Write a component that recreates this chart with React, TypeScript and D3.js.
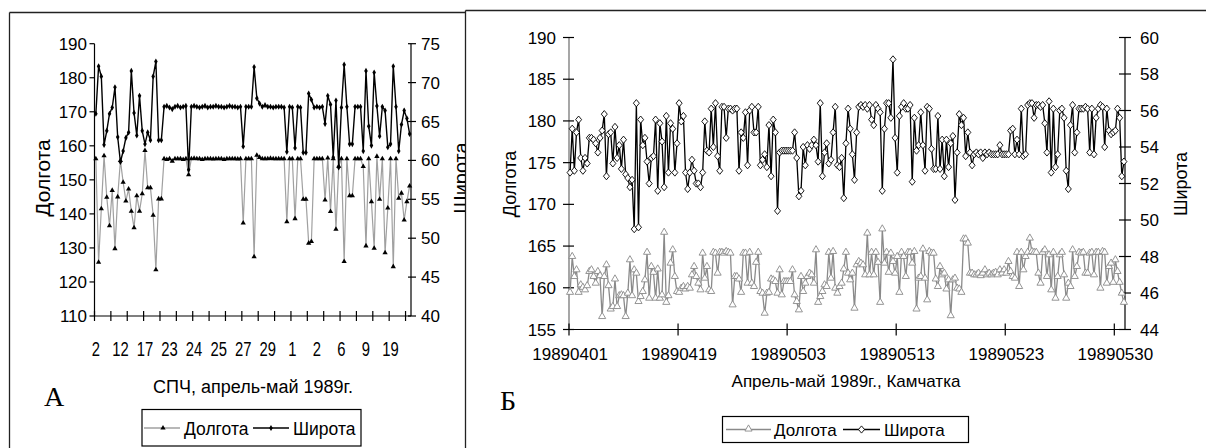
import React from "react";
import * as d3 from "d3";

// ---------- Panel A data (СПЧ) ----------
const catLabelsA = ["2", "12", "17", "23", "24", "25", "27", "29", "1", "2", "6", "9", "19"];
const leftTicksA = [110, 120, 130, 140, 150, 160, 170, 180, 190];
const rightTicksA = [40, 45, 50, 55, 60, 65, 70, 75];
const lonA = [
  156.2, 125.8, 141.5, 157.1, 144.9, 136.5, 146.9, 129.8, 145.0, 155.7,
  149.3, 143.8, 147.3, 140.8, 135.9, 145.3, 140.8, 145.9, 158.6, 147.7,
  147.7, 139.6, 123.6, 144.4, 144.4,
  156.2, 156.0, 156.2, 155.5, 156.2, 156.2, 156.2, 156.0, 156.2, 151.5,
  156.2, 156.3, 156.2, 156.2, 156.0, 156.2, 156.2, 156.2, 156.1, 156.2,
  156.2, 156.2, 156.0, 156.2, 156.2, 156.2, 156.2, 156.1, 156.2, 137.3,
  156.2, 156.2, 156.2, 127.4, 157.2, 156.6, 156.2, 156.2, 156.2, 156.3,
  156.2, 156.2, 156.2, 156.2, 156.2, 137.7, 156.2, 156.2, 138.6, 156.2,
  156.2, 144.3, 144.3,
  131.4, 131.9, 156.2, 156.2, 156.2, 156.2, 144.1, 156.4, 140.7, 156.2,
  135.5, 154.0, 156.2, 126.0, 156.2, 145.3, 145.3, 156.2, 156.2, 156.2,
  153.9, 130.6, 156.2, 143.6, 129.9, 156.9, 144.3, 156.2, 128.6, 141.7,
  156.2, 124.5, 156.2, 144.6, 146.1, 138.2, 143.6, 148.2,
];
const latA = [
  66.0, 72.1, 70.8, 62.0, 63.8, 66.0, 66.8, 69.4, 63.0, 59.8,
  61.2, 62.9, 63.6, 71.5, 66.1, 63.2, 68.3, 63.8, 62.1, 63.6,
  62.6, 70.8, 72.7, 62.6, 62.6,
  66.9, 67.0, 66.8, 66.6, 66.9, 67.0, 66.8, 66.9, 67.0, 58.8,
  66.9, 67.0, 66.9, 66.8, 66.9, 67.0, 66.8, 66.9, 66.9, 67.0,
  66.9, 66.9, 66.8, 66.9, 67.0, 66.9, 66.9, 66.8, 66.9, 61.8,
  66.9, 66.9, 66.9, 72.0, 68.0, 67.3, 66.9, 67.1, 66.9, 66.9,
  66.8, 66.9, 66.9, 66.9, 66.8, 61.1, 66.9, 66.8, 61.6, 66.9,
  66.8, 61.0, 61.0,
  68.6, 67.8, 66.8, 66.9, 66.8, 66.9, 64.7, 68.3, 67.2, 60.4,
  67.7, 59.1, 66.8, 72.3, 66.9, 62.1, 62.1, 66.9, 66.9, 66.9,
  61.2, 71.5, 64.4, 61.9, 71.3, 67.0, 63.1, 66.9, 66.4, 61.7,
  62.1, 72.1, 66.9, 61.2, 64.6, 66.4, 65.4, 63.4,
];

// ---------- Panel B data (Камчатка) ----------
const catLabelsB = ["19890401", "19890419", "19890503", "19890513", "19890523", "19890530"];
const leftTicksB = [155, 160, 165, 170, 175, 180, 185, 190];
const rightTicksB = [44, 46, 48, 50, 52, 54, 56, 58, 60];
const lonB = [
  159.4, 163.7, 161.3, 162.1, 159.4, 160.3, 160.0, 159.7, 160.2, 161.9,
  162.1, 161.3, 160.5, 161.9, 161.4, 156.5, 161.3, 162.7, 160.2, 157.4,
  157.7, 161.0, 157.7, 159.0, 159.1, 159.0, 156.5, 159.3, 163.3, 159.0,
  162.1, 161.7, 158.3, 158.9, 159.5, 160.9, 164.2, 158.7, 162.5, 161.8,
  158.7, 162.2, 158.7, 159.1, 166.6, 158.2, 159.0, 162.9, 164.5, 161.3,
  159.5, 159.4, 159.9, 160.1, 159.8, 160.1, 159.9, 161.5, 162.5, 161.3,
  160.5, 159.7, 164.1, 161.1, 162.5, 159.7, 159.5, 164.2, 164.1, 161.7,
  164.2, 164.2, 164.1, 164.3, 164.2, 164.1, 157.9, 161.3, 161.3, 161.0,
  159.4, 164.1, 164.1, 160.5, 164.2, 160.5, 160.1, 163.0, 164.2, 159.5,
  159.3, 156.9, 159.3, 159.4, 161.0,
  160.9, 160.7, 159.3, 162.1, 159.1, 160.7, 160.7, 160.7, 160.7,
  162.1, 159.1, 158.3, 157.3, 161.3, 159.5, 160.5, 161.3, 161.7, 161.5, 160.5,
  164.5, 158.2, 158.9, 159.5, 160.3, 160.1, 164.2, 161.1, 164.3, 159.9,
  159.3, 160.1, 160.5, 162.2, 164.2, 161.7, 160.9, 161.7, 157.5,
  162.7, 163.1, 162.9, 162.7, 161.5, 166.5, 161.5, 164.2, 161.5, 164.2,
  163.0, 158.2, 167.0, 162.9, 164.2, 161.8, 164.1, 163.1,
  161.7, 163.7, 159.4, 164.2, 163.7, 161.3, 164.2, 164.2, 162.9, 164.3,
  157.4, 161.1, 161.3, 164.6, 161.1, 158.5, 164.3, 164.1,
  164.1, 161.0, 160.1, 162.5, 161.5, 161.7, 159.8, 160.9, 156.6, 160.9,
  161.1, 159.9, 159.8, 159.4, 165.8, 165.8, 165.3,
  161.7, 161.7, 161.5, 161.5, 161.7, 161.4, 161.7, 162.1, 161.5, 161.7, 161.5,
  161.7, 161.8, 161.5, 162.1, 161.7, 162.1, 161.7,
  163.1, 161.9, 161.3, 161.1, 164.2, 160.1, 164.2, 162.1, 163.7, 164.2,
  165.9, 164.3, 164.2, 164.2, 161.7, 160.5, 164.2, 164.5, 161.3, 163.9,
  159.7, 164.2, 158.7, 161.3, 163.9, 164.2, 161.5, 158.7, 160.5, 160.1,
  164.5, 161.3, 162.5, 164.2, 164.1, 164.2, 161.7, 161.7, 164.1, 164.2,
  161.5, 164.2, 164.2, 159.9, 164.3, 164.2, 160.5, 162.5, 162.9, 160.6,
  163.3, 161.9, 160.6, 159.3, 158.2,
];
const latB = [
  52.6, 55.0, 52.7, 54.8, 55.5, 53.4, 52.7, 53.4, 53.1, 54.5,
  54.5, 54.4, 54.2, 53.7, 54.5, 54.9, 55.8, 52.4, 54.7, 54.8,
  53.1, 55.1, 53.4, 54.1, 52.8, 54.4, 52.5, 52.3, 51.8, 52.2,
  49.5, 56.4, 49.6, 55.5, 54.1, 54.5, 53.2, 52.0, 53.4, 53.5,
  55.5, 51.6, 55.3, 54.3, 51.8, 55.7, 52.6, 55.3, 55.0, 52.6,
  54.2, 56.4, 55.4, 55.7, 52.6, 51.7, 52.6, 53.3, 52.7, 52.0,
  52.0, 51.8, 52.6, 55.4, 53.8, 53.7, 56.1, 54.0, 56.4, 53.5,
  52.7, 56.2, 56.2, 54.5, 56.1, 56.1, 56.0, 56.1, 56.1, 52.7,
  54.8, 54.5, 55.9, 53.0, 56.0, 56.2, 54.8, 54.8, 56.2, 53.0,
  53.3, 53.6, 52.9, 55.2, 52.4,
  55.5, 54.8, 50.5, 53.7, 53.8, 53.8, 53.8, 53.8, 53.8, 53.8,
  54.8, 53.4, 51.3, 51.6, 54.0, 53.0, 54.1, 53.9, 54.1, 54.4,
  54.1, 53.2, 56.4, 52.4, 53.7, 54.2, 53.1, 53.3, 54.8, 56.2,
  53.0, 52.9, 53.4, 51.2, 54.2, 56.1, 55.0, 53.6, 52.2, 54.8,
  56.2, 56.3, 56.2, 56.3, 56.1, 56.3, 55.5, 55.2, 56.3, 56.1,
  55.9, 51.6, 55.0, 56.4, 56.4, 55.6, 58.8, 54.5, 52.6, 55.7,
  56.2, 56.4, 56.1, 56.1, 56.3, 52.1, 55.6, 53.8, 54.1, 55.9,
  54.1, 52.7, 56.2, 56.1, 53.9, 52.8, 52.8, 55.7, 52.8, 54.4,
  52.4, 54.4, 52.9, 54.2, 54.6, 51.1, 53.7, 55.8, 55.2, 55.6,
  53.5, 54.8, 53.7, 53.0, 53.6, 53.7, 53.6, 53.7, 53.4, 53.7,
  53.6, 53.7, 53.6,
  53.6, 53.6, 53.6, 54.1, 53.6, 53.6, 53.6, 53.6, 54.9, 55.0,
  53.6, 54.4, 53.6, 56.1, 53.5, 53.6, 56.3, 56.4, 56.4, 55.6,
  56.3, 56.3, 56.2, 56.3, 55.3, 53.7, 56.5, 52.6, 56.1, 52.9,
  53.6, 56.0, 56.1, 55.6, 52.7, 51.7, 55.2, 56.3, 53.7, 54.8,
  56.1, 56.1, 56.1, 56.2, 56.1, 53.7, 56.1, 53.6, 55.6, 56.1,
  56.3, 56.2, 54.0, 56.1, 54.9, 54.7, 54.8, 54.9, 56.1, 55.6,
  52.4, 53.2,
];

const FONT = "'Liberation Sans', Arial, Helvetica, sans-serif";
const SERIF = "'Liberation Serif', 'Times New Roman', serif";

function HText(props: any) {
  const { x, y, size, anchor = "start", sx = 1, children, fill = "#000", family = FONT } = props;
  return (
    <text
      transform={`translate(${x},${y}) scale(${sx},1)`}
      fontSize={size}
      textAnchor={anchor}
      fill={fill}
      fontFamily={family}
    >
      {children}
    </text>
  );
}

function VText(props: any) {
  const { x, y, size, children } = props;
  return (
    <text transform={`translate(${x},${y}) rotate(-90)`} fontSize={size} textAnchor="middle" fill="#000" fontFamily={FONT}>
      {children}
    </text>
  );
}

function PanelA() {
  const N = lonA.length;
  const x0 = 94.5, x1 = 411, yT = 43.7, yB = 316;
  const x = d3.scaleLinear().domain([0, N]).range([x0, x1]);
  const yL = d3.scaleLinear().domain([110, 190]).range([yB, yT]);
  const yR = d3.scaleLinear().domain([40, 75]).range([yB, yT]);
  const lineL = d3.line<number>().x((_, i) => x(i + 0.5)).y((d) => yL(d));
  const lineR = d3.line<number>().x((_, i) => x(i + 0.5)).y((d) => yR(d));
  const tri = d3.symbol().type(d3.symbolTriangle).size(12)() as string;
  const dot = d3.symbol().type(d3.symbolDiamond).size(11)() as string;
  const tickIdx = d3.range(0, N, 6);
  const labIdx = d3.range(0, N, 9);
  return (
    <g>
      <defs>
        <clipPath id="clipA">
          <rect x={9} y={0} width={456} height={448} />
        </clipPath>
      </defs>
      <line x1={x0} x2={x0} y1={yT} y2={yB} stroke="#000" strokeWidth={1.2} />
      <line x1={x1} x2={x1} y1={yT} y2={yB} stroke="#000" strokeWidth={1.2} />
      <line x1={x0} x2={x1} y1={yB} y2={yB} stroke="#000" strokeWidth={1.2} />
      {leftTicksA.map((t) => (
        <g key={"la" + t}>
          <line x1={x0 - 5} x2={x0} y1={yL(t)} y2={yL(t)} stroke="#000" strokeWidth={1.2} />
          <HText x={87} y={yL(t) + 6} size={17} anchor="end">{t}</HText>
        </g>
      ))}
      {rightTicksA.map((t) => (
        <g key={"ra" + t}>
          <line x1={x1 - 3} x2={x1 + 5} y1={yR(t)} y2={yR(t)} stroke="#000" strokeWidth={1.2} />
          <HText x={421} y={yR(t) + 6} size={17}>{t}</HText>
        </g>
      ))}
      {tickIdx.map((i) => (
        <line key={"ta" + i} x1={x(i)} x2={x(i)} y1={yB - 5} y2={yB + 5} stroke="#000" strokeWidth={1.2} />
      ))}
      {labIdx.map((i, k) => (
        <HText key={"lb" + i} x={x(i + 0.5)} y={355.5} size={19.5} anchor="middle" sx={0.76}>
          {catLabelsA[k]}
        </HText>
      ))}
      <path d={lineL(lonA) as string} fill="none" stroke="#a0a0a0" strokeWidth={1.2} />
      {lonA.map((d, i) => (
        <path key={"ma" + i} d={tri} transform={`translate(${x(i + 0.5)},${yL(d)})`} fill="#000" />
      ))}
      <path d={lineR(latA) as string} fill="none" stroke="#000" strokeWidth={1.4} />
      {latA.map((d, i) => (
        <path key={"mb" + i} d={dot} transform={`translate(${x(i + 0.5)},${yR(d)})`} fill="#000" />
      ))}
      <VText x={50} y={178} size={21}>Долгота</VText>
      <g clipPath="url(#clipA)">
        <VText x={467.5} y={178} size={20}>Широта</VText>
      </g>
      <HText x={253} y={393} size={18} anchor="middle">СПЧ, апрель-май 1989г.</HText>
      <HText x={44} y={406} size={28} family={SERIF}>А</HText>
      <rect x={142} y={409.5} width={219} height={36.5} fill="#fff" stroke="#000" strokeWidth={1.2} />
      <line x1={144} x2={180} y1={428} y2={428} stroke="#a0a0a0" strokeWidth={1.5} />
      <path d={tri} transform="translate(163,428)" fill="#000" />
      <HText x={184} y={434.5} size={17.5}>Долгота</HText>
      <line x1={253} x2={289} y1={428} y2={428} stroke="#000" strokeWidth={1.5} />
      <path d={dot} transform="translate(271,428)" fill="#000" />
      <HText x={293} y={434.5} size={17.5}>Широта</HText>
    </g>
  );
}

function PanelB() {
  const N = lonB.length;
  const x0 = 569, x1 = 1125, yT = 37.5, yB = 329.5;
  const x = d3.scaleLinear().domain([0, N]).range([x0, x1]);
  const yL = d3.scaleLinear().domain([155, 190]).range([yB, yT]);
  const yR = d3.scaleLinear().domain([44, 60]).range([yB, yT]);
  const lineL = d3.line<number>().x((_, i) => x(i + 0.5)).y((d) => yL(d));
  const lineR = d3.line<number>().x((_, i) => x(i + 0.5)).y((d) => yR(d));
  const tri = d3.symbol().type(d3.symbolTriangle).size(22)() as string;
  const dia = "M0,-3.6L3,0L0,3.6L-3,0Z";
  const step = 51;
  const tickIdx = d3.range(0, N, step);
  return (
    <g>
      <line x1={x0} x2={x0} y1={yT} y2={yB} stroke="#777" strokeWidth={1.3} />
      <line x1={x1} x2={x1} y1={yT} y2={yB} stroke="#000" strokeWidth={1.2} />
      <line x1={x0} x2={x1} y1={yB} y2={yB} stroke="#000" strokeWidth={1.2} />
      {leftTicksB.map((t) => (
        <g key={"lb" + t}>
          <line x1={x0 - 6} x2={x0 + 5} y1={yL(t)} y2={yL(t)} stroke="#000" strokeWidth={1.2} />
          <HText x={556} y={yL(t) + 6} size={17} anchor="end">{t}</HText>
        </g>
      ))}
      {rightTicksB.map((t) => (
        <g key={"rb" + t}>
          <line x1={x1 - 6} x2={x1 + 6} y1={yR(t)} y2={yR(t)} stroke="#000" strokeWidth={1.2} />
          <HText x={1140} y={yR(t) + 6} size={17}>{t}</HText>
        </g>
      ))}
      {tickIdx.map((i) => (
        <line key={"tb" + i} x1={x(i)} x2={x(i)} y1={yB - 6} y2={yB + 6} stroke="#000" strokeWidth={1.2} />
      ))}
      {tickIdx.map((i, k) => (
        <HText key={"cl" + i} x={x(i + 0.5)} y={360} size={17} anchor="middle">
          {catLabelsB[k]}
        </HText>
      ))}
      <path d={lineL(lonB) as string} fill="none" stroke="#8a8a8a" strokeWidth={1.3} />
      {lonB.map((d, i) => (
        <path key={"mg" + i} d={tri} transform={`translate(${x(i + 0.5)},${yL(d) - 0.5})`} fill="#fff" stroke="#8a8a8a" strokeWidth={0.9} />
      ))}
      <path d={lineR(latB) as string} fill="none" stroke="#000" strokeWidth={1.3} />
      {latB.map((d, i) => (
        <path key={"mk" + i} d={dia} transform={`translate(${x(i + 0.5)},${yR(d)})`} fill="#fff" stroke="#000" strokeWidth={0.9} />
      ))}
      <VText x={516} y={184} size={18}>Долгота</VText>
      <VText x={1187} y={184} size={18}>Широта</VText>
      <HText x={846} y={387} size={17} anchor="middle">Апрель-май 1989г., Камчатка</HText>
      <HText x={500} y={410} size={28} family={SERIF}>Б</HText>
      <rect x={722.5} y={416.5} width={246} height={26} fill="#fff" stroke="#000" strokeWidth={1.2} />
      <line x1={726} x2={771} y1={429.5} y2={429.5} stroke="#8a8a8a" strokeWidth={1.5} />
      <path d={tri} transform="translate(748.5,429)" fill="#fff" stroke="#8a8a8a" strokeWidth={0.9} />
      <HText x={774} y={435.5} size={17}>Долгота</HText>
      <line x1={843} x2={880} y1={429.5} y2={429.5} stroke="#000" strokeWidth={1.5} />
      <path d={dia} transform="translate(861.5,429.5)" fill="#fff" stroke="#000" strokeWidth={0.9} />
      <HText x={884} y={435.5} size={17}>Широта</HText>
    </g>
  );
}

export default function App() {
  return (
    <svg width={1206} height={448} style={{ position: "absolute", left: 0, top: 0, background: "#fff" }}>
      <rect x={0} y={0} width={1206} height={448} fill="#fff" />
      <line x1={9.5} x2={465.5} y1={12.5} y2={12.5} stroke="#222" strokeWidth={1.3} />
      <line x1={9.5} x2={9.5} y1={12.5} y2={448} stroke="#222" strokeWidth={1.3} />
      <line x1={465.5} x2={465.5} y1={10.5} y2={448} stroke="#222" strokeWidth={1.3} />
      <line x1={465.5} x2={1206} y1={10.5} y2={10.5} stroke="#222" strokeWidth={1.3} />
      <PanelA />
      <PanelB />
    </svg>
  );
}
